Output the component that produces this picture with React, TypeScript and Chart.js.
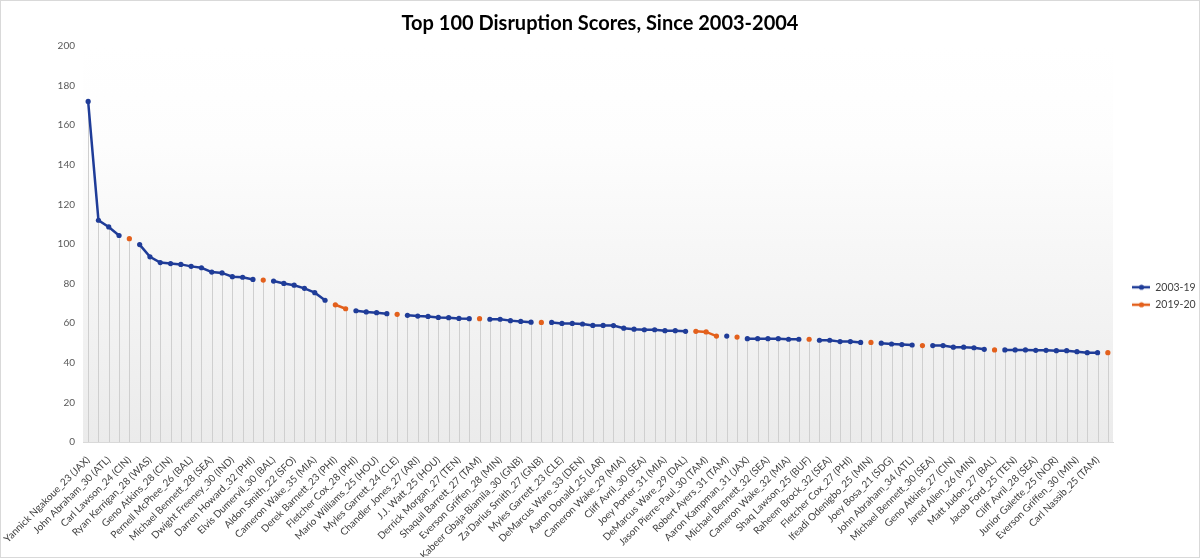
import React, { useEffect, useRef } from 'react';
import { Chart, registerables } from 'chart.js';

Chart.register(...registerables);

const chartTitle = 'Top 100 Disruption Scores, Since 2003-2004';
const seriesNames = ['2003-19', '2019-20'];
const seriesColors = ['#1f3c98', '#e3601c'];

const tickLabels = [
  'Yannick Ngakoue_23 (JAX)', 'John Abraham_30 (ATL)', 'Carl Lawson_24 (CIN)', 'Ryan Kerrigan_28 (WAS)',
  'Geno Atkins_28 (CIN)', 'Pernell McPhee_26 (BAL)', 'Michael Bennett_28 (SEA)', 'Dwight Freeney_30 (IND)',
  'Darren Howard_32 (PHI)', 'Elvis Dumervil_30 (BAL)', 'Aldon Smith_22 (SFO)', 'Cameron Wake_35 (MIA)',
  'Derek Barnett_23 (PHI)', 'Fletcher Cox_28 (PHI)', 'Mario Williams_25 (HOU)', 'Myles Garrett_24 (CLE)',
  'Chandler Jones_27 (ARI)', 'J.J. Watt_25 (HOU)', 'Derrick Morgan_27 (TEN)', 'Shaquil Barrett_27 (TAM)',
  'Everson Griffen_28 (MIN)', 'Kabeer Gbaja-Biamila_30 (GNB)', "Za'Darius Smith_27 (GNB)", 'Myles Garrett_23 (CLE)',
  'DeMarcus Ware_33 (DEN)', 'Aaron Donald_25 (LAR)', 'Cameron Wake_29 (MIA)', 'Cliff Avril_30 (SEA)',
  'Joey Porter_31 (MIA)', 'DeMarcus Ware_29 (DAL)', 'Jason Pierre-Paul_30 (TAM)', 'Robert Ayers_31 (TAM)',
  'Aaron Kampman_31 (JAX)', 'Michael Bennett_32 (SEA)', 'Cameron Wake_32 (MIA)', 'Shaq Lawson_25 (BUF)',
  'Raheem Brock_32 (SEA)', 'Fletcher Cox_27 (PHI)', 'Ifeadi Odenigbo_25 (MIN)', 'Joey Bosa_21 (SDG)',
  'John Abraham_34 (ATL)', 'Michael Bennett_30 (SEA)', 'Geno Atkins_27 (CIN)', 'Jared Allen_26 (MIN)',
  'Matt Judon_27 (BAL)', 'Jacob Ford_25 (TEN)', 'Cliff Avril_28 (SEA)', 'Junior Galette_25 (NOR)',
  'Everson Griffen_30 (MIN)', 'Carl Nassib_25 (TAM)',
];

// 100 ranked entries; a name is shown under every second one
const categories = Array.from({ length: tickLabels.length * 2 }, (_, i) => (i % 2 === 0 ? tickLabels[i / 2] : ''));

const n = null;
const scores2003to19 = [
  172, 112, 108.6, 104.3, n, 99.7, 93.5, 90.6, 90.1, 89.7,
  88.7, 88.0, 85.8, 85.4, 83.5, 83.2, 82.1, n, 81.3, 80.1,
  79.2, 77.6, 75.4, 71.6, n, n, 66.3, 65.7, 65.3, 64.8,
  n, 64.0, 63.6, 63.4, 62.9, 62.8, 62.4, 62.3, n, 62.0,
  62.0, 61.3, 60.9, 60.5, n, 60.4, 59.9, 59.9, 59.6, 58.9,
  58.9, 58.8, 57.5, 57.0, 56.7, 56.7, 56.2, 56.2, 55.9, n,
  n, n, 53.5, n, 52.2, 52.2, 52.2, 52.2, 51.9, 51.9,
  n, 51.4, 51.4, 50.7, 50.7, 50.3, n, 49.9, 49.5, 49.2,
  49.0, n, 48.7, 48.7, 47.9, 47.9, 47.6, 46.8, n, 46.5,
  46.5, 46.5, 46.3, 46.3, 46.1, 46.1, 45.6, 45.1, 45.1, n,
];
const scores2019to20 = [
  n, n, n, n, 102.7, n, n, n, n, n,
  n, n, n, n, n, n, n, 81.8, n, n,
  n, n, n, n, 69.3, 67.3, n, n, n, n,
  64.5, n, n, n, n, n, n, n, 62.3, n,
  n, n, n, n, 60.4, n, n, n, n, n,
  n, n, n, n, n, n, n, n, n, 55.9,
  55.6, 53.5, n, 53.0, n, n, n, n, n, n,
  51.9, n, n, n, n, n, 50.3, n, n, n,
  n, 48.7, n, n, n, n, n, n, 46.5, n,
  n, n, n, n, n, n, n, n, n, 45.1,
];

const yMin = 0;
const yMax = 200;
const yStep = 20;

const FONT = "Lato, 'Open Sans', 'DejaVu Sans', sans-serif";

function makeLegendIcon(color: string): HTMLCanvasElement {
  const c = document.createElement('canvas');
  c.width = 30;
  c.height = 8;
  const ctx = c.getContext('2d')!;
  ctx.strokeStyle = color;
  ctx.lineWidth = 2.5;
  ctx.beginPath();
  ctx.moveTo(12, 4);
  ctx.lineTo(31, 4);
  ctx.stroke();
  ctx.fillStyle = color;
  ctx.beginPath();
  ctx.arc(21.5, 4, 2.6, 0, Math.PI * 2);
  ctx.fill();
  return c;
}

const plotBackground = {
  id: 'plotBackground',
  beforeDraw(chart: any) {
    const { ctx, chartArea } = chart;
    if (!chartArea) return;
    const g = ctx.createLinearGradient(0, chartArea.top, 0, chartArea.bottom);
    g.addColorStop(0, '#ffffff');
    g.addColorStop(0.25, '#fdfdfd');
    g.addColorStop(1, '#ebebeb');
    ctx.save();
    ctx.fillStyle = g;
    ctx.fillRect(chartArea.left, chartArea.top, chartArea.right - chartArea.left, chartArea.bottom - chartArea.top);
    ctx.restore();
  },
};

const dropLines = {
  id: 'dropLines',
  beforeDatasetsDraw(chart: any) {
    const { ctx } = chart;
    const yScale = chart.scales.y;
    const base = yScale.getPixelForValue(0);
    ctx.save();
    ctx.strokeStyle = '#cfcfcf';
    ctx.lineWidth = 1;
    chart.data.datasets.forEach((ds: any, di: number) => {
      const meta = chart.getDatasetMeta(di);
      meta.data.forEach((pt: any, i: number) => {
        if (ds.data[i] === null || ds.data[i] === undefined) return;
        const x = Math.round(pt.x) + 0.5;
        ctx.beginPath();
        ctx.moveTo(x, pt.y);
        ctx.lineTo(x, base);
        ctx.stroke();
      });
    });
    ctx.restore();
  },
};

export default function App() {
  const canvasRef = useRef<HTMLCanvasElement | null>(null);

  useEffect(() => {
    if (!canvasRef.current) return;
    const icons = seriesColors.map(makeLegendIcon);
    const chart = new Chart(canvasRef.current, {
      type: 'line',
      data: {
        labels: categories,
        datasets: [
          {
            label: seriesNames[0],
            data: scores2003to19,
            borderColor: seriesColors[0],
            backgroundColor: seriesColors[0],
            pointBackgroundColor: seriesColors[0],
            pointBorderWidth: 0,
            pointRadius: 2.6,
            borderWidth: 2.5,
            spanGaps: false,
            tension: 0,
          },
          {
            label: seriesNames[1],
            data: scores2019to20,
            borderColor: seriesColors[1],
            backgroundColor: seriesColors[1],
            pointBackgroundColor: seriesColors[1],
            pointBorderWidth: 0,
            pointRadius: 2.6,
            borderWidth: 2.5,
            spanGaps: false,
            tension: 0,
          },
        ],
      },
      options: {
        animation: false,
        responsive: true,
        maintainAspectRatio: false,
        layout: { padding: { left: 0, right: 0, top: 0, bottom: 0 } },
        plugins: {
          tooltip: { enabled: false },
          title: {
            display: true,
            text: chartTitle,
            color: '#000000',
            font: { family: FONT, size: 20, weight: 'bold', lineHeight: 1.2 },
            padding: { top: 12, bottom: 10 },
          },
          legend: {
            display: true,
            position: 'right',
            maxWidth: 87,
            title: { display: true, text: ' ', font: { size: 10, lineHeight: 1.2 }, padding: { top: 0, bottom: 22 } },
            labels: {
              usePointStyle: true,
              pointStyleWidth: 30,
              boxHeight: 8,
              padding: 7,
              color: '#404040',
              font: { family: FONT, size: 10.5 },
              generateLabels: (c: any) => {
                const items = (Chart.defaults.plugins.legend.labels as any).generateLabels(c);
                return items.map((it: any, i: number) => ({ ...it, pointStyle: icons[i], fontColor: '#404040' }));
              },
            },
          },
        },
        scales: {
          x: {
            type: 'category',
            offset: true,
            grid: { display: false, drawTicks: false },
            border: { display: true, color: '#d9d9d9' },
            ticks: {
              autoSkip: false,
              minRotation: 45,
              maxRotation: 45,
              padding: 12,
              color: '#404040',
              font: { family: FONT, size: 10 },
            },
            afterFit: (scale: any) => {
              scale.height = 116;
              scale.paddingLeft = 0;
              scale.paddingRight = 0;
            },
          },
          y: {
            min: yMin,
            max: yMax,
            grid: { display: false, drawTicks: false },
            border: { display: false },
            ticks: {
              stepSize: yStep,
              padding: 8,
              color: '#595959',
              font: { family: FONT, size: 10 },
            },
            afterFit: (scale: any) => {
              scale.width = 83;
            },
          },
        },
      },
      plugins: [plotBackground, dropLines],
    } as any);
    return () => chart.destroy();
  }, []);

  return (
    <div style={{ position: 'absolute', left: 0, top: 0, width: 1200, height: 558, background: '#ffffff' }}>
      <div style={{ position: 'absolute', inset: 0 }}>
        <canvas ref={canvasRef} />
      </div>
      <div style={{ position: 'absolute', inset: 0, border: '1px solid #d9d9d9', pointerEvents: 'none' }} />
    </div>
  );
}
